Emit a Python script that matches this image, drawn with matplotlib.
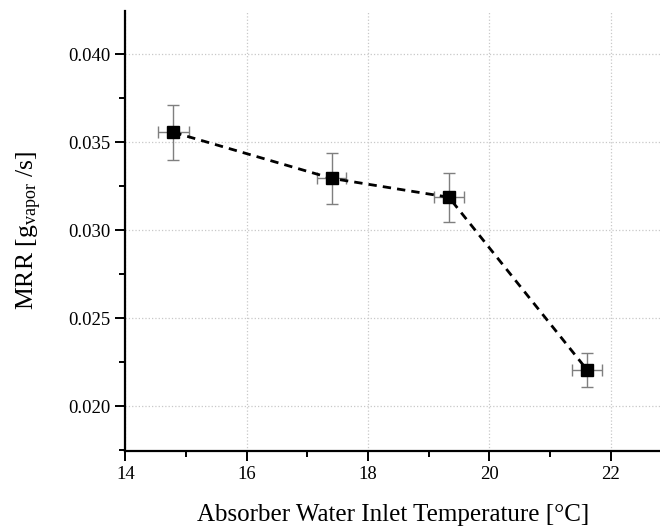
import numpy as np
import matplotlib.pyplot as plt
from matplotlib.ticker import MultipleLocator, FormatStrFormatter

# absorber water inlet temperature [°C] and MRR [g_vapor/s]
temp = [14.79, 17.40, 19.33, 21.61]
mrr = [0.03557, 0.03295, 0.03188, 0.02206]
temp_err = [0.25, 0.24, 0.25, 0.25]
mrr_err = [0.00157, 0.00144, 0.00138, 0.00095]

plt.rcParams["font.family"] = ["Liberation Serif", "DejaVu Serif"]
plt.rcParams["mathtext.fontset"] = "custom"
plt.rcParams["mathtext.rm"] = "Liberation Serif"
plt.rcParams["mathtext.it"] = "Liberation Serif"

fig = plt.figure(figsize=(6.6, 5.27), dpi=100)
ax = fig.add_axes([0.190, 0.145, 0.81, 0.834])

ax.errorbar(temp, mrr, xerr=temp_err, yerr=mrr_err, fmt="none",
            ecolor="#7f7f7f", elinewidth=1.0, capsize=4, capthick=1.0, zorder=2)
ax.plot(temp, mrr, linestyle=(0, (3, 2.2)), color="black", lw=2.0,
        marker="s", markersize=8.6, markerfacecolor="black",
        markeredgecolor="black", zorder=3)

ax.set_xlim(14, 22.81)
ax.set_ylim(0.01748, 0.04246)
ax.xaxis.set_major_locator(MultipleLocator(2))
ax.xaxis.set_minor_locator(MultipleLocator(1))
ax.yaxis.set_major_locator(MultipleLocator(0.005))
ax.yaxis.set_minor_locator(MultipleLocator(0.0025))
ax.yaxis.set_major_formatter(FormatStrFormatter("%.3f"))

ax.grid(True, which="major", linestyle=":", color="#c8c8c8", lw=0.9)
ax.set_axisbelow(True)

for s in ["top", "right"]:
    ax.spines[s].set_visible(False)
for s in ["left", "bottom"]:
    ax.spines[s].set_linewidth(1.6)

ax.tick_params(which="major", direction="out", length=7, width=1.4, labelsize=13.5, pad=4)
ax.tick_params(which="minor", direction="out", length=4, width=1.4)

ax.set_xlabel("Absorber Water Inlet Temperature [°C]", fontsize=18, labelpad=15)
ax.set_ylabel(r"MRR [g$_{\mathrm{vapor}}$ /s]", fontsize=18.5, labelpad=17)

fig.savefig("out.png", dpi=100)
